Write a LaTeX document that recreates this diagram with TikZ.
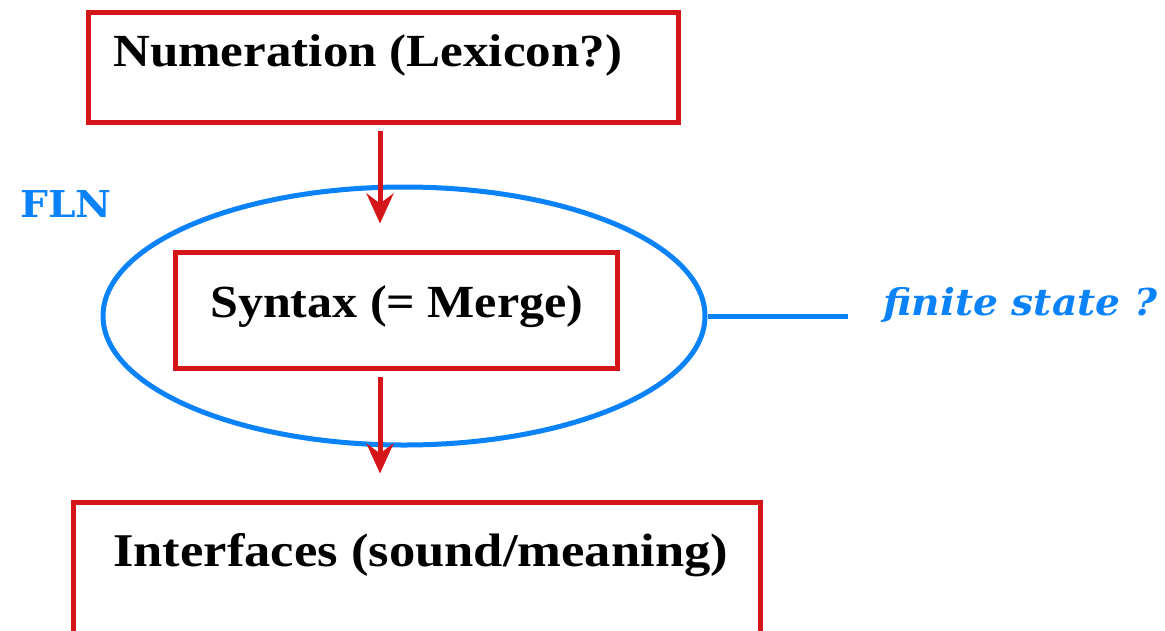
\documentclass[tikz,border=0pt]{standalone}
\usepackage{fontspec}
\setmainfont{Liberation Serif}
\newfontfamily\boxfont[FakeStretch=1.11]{Liberation Serif}
\newfontfamily\bluefont[FakeStretch=1.06]{DejaVu Serif}
\usetikzlibrary{arrows.meta,shapes.geometric}
\definecolor{myred}{RGB}{212,22,26}
\definecolor{myblue}{RGB}{10,130,250}
\tikzset{
  redbox/.style={draw=myred, line width=5pt, rectangle, inner sep=0pt},
  boxtext/.style={anchor=base west, inner sep=0pt, font=\boxfont\fontsize{46}{50}\selectfont\bfseries},
  bluetext/.style={anchor=base west, inner sep=0pt, text=myblue, font=\bluefont\fontsize{37}{40}\selectfont\bfseries},
  redarrow/.style={draw=myred, line width=5pt, -{Stealth[length=30pt,width=27pt,inset=10pt]}},
}
\begin{document}
\begin{tikzpicture}[x=1pt,y=-1pt]
\useasboundingbox (0,0) rectangle (1165,630);
\node[redbox, minimum width=590pt, minimum height=110pt] (b1) at (383,67) {};
\node[redbox, minimum width=442pt, minimum height=116pt] (b2) at (396,310) {};
\node[redbox, minimum width=687pt, minimum height=160pt] (b3) at (416.5,582) {};
\node[draw=myblue, line width=5pt, ellipse, minimum width=602pt, minimum height=258pt, inner sep=0pt] (ell) at (404,316) {};
\node[boxtext] (t1) at (113,66) {Numeration (Lexicon?)};
\node[boxtext] (t2) at (210,317) {\scalebox{0.98}[1]{Syntax (= Merge)}};
\node[boxtext] (t3) at (113,566) {\scalebox{1.03}[1.02]{Interfaces (sound/meaning)}};
\node[bluetext] (fln) at (20,217) {FLN};
\node[bluetext, font=\bluefont\fontsize{37}{40}\selectfont\bfseries\itshape] (fs) at (883,315) {finite state ?};
\coordinate (lend) at (848,316);
\draw[myblue, line width=5pt] (ell.east) -- (lend);
\draw[redarrow, shorten <=6pt, shorten >=26pt] (b1.south -| 380,0) -- (b2.north -| 380,0);
\draw[redarrow, shorten <=6pt, shorten >=26pt] (b2.south -| 380,0) -- (b3.north -| 380,0);
\end{tikzpicture}
\end{document}
